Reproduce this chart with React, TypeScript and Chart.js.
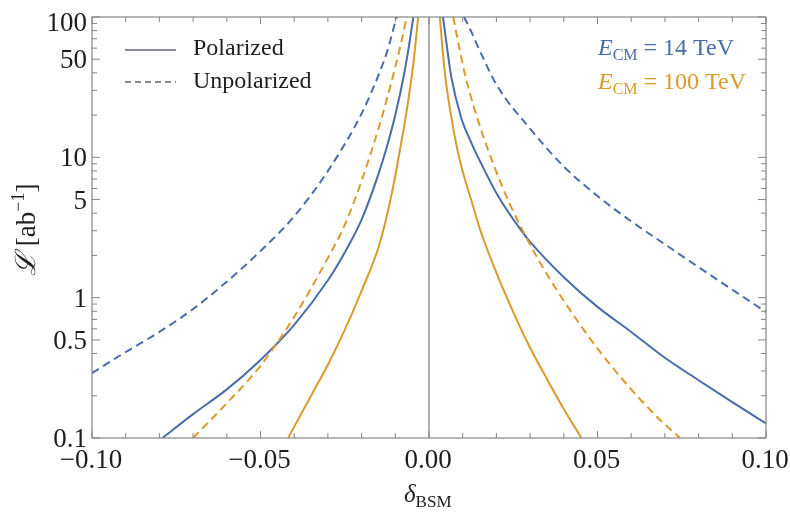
import { useEffect, useRef } from "react";
import { Chart, registerables } from "chart.js";

Chart.register(...registerables);

// Required luminosity vs. deviation, two collider energies, with / without polarization.
// Each curve has a negative-delta branch and a positive-delta branch.

const blue14PolLeftX = [-0.0791, -0.07, -0.06, -0.05, -0.04, -0.03, -0.025, -0.02, -0.015, -0.0125, -0.01, -0.0075, -0.006, -0.00465];
const blue14PolLeftY = [0.1, 0.148, 0.222, 0.36, 0.64, 1.33, 2.1, 3.6, 7.6, 11.9, 20, 38, 61, 100];
const blue14PolRightX = [0.00415, 0.005, 0.0066, 0.0096, 0.0125, 0.0155, 0.0205, 0.0274, 0.03, 0.04, 0.05, 0.06, 0.07, 0.08, 0.09, 0.1];
const blue14PolRightY = [100, 70, 37.6, 19, 12.8, 9.0, 5.3, 3.0, 2.5, 1.4, 0.86, 0.57, 0.373, 0.258, 0.18, 0.127];

const blue14UnpolLeftX = [-0.1, -0.09, -0.08, -0.07, -0.06, -0.05, -0.04, -0.03, -0.02, -0.015, -0.0125, -0.0096];
const blue14UnpolLeftY = [0.29, 0.41, 0.57, 0.83, 1.3, 2.15, 3.8, 8.0, 20.5, 38.5, 56, 100];
const blue14UnpolRightX = [0.0104, 0.0125, 0.015, 0.02, 0.03, 0.04, 0.05, 0.06, 0.07, 0.08, 0.09, 0.1];
const blue14UnpolRightY = [100, 79, 58, 33, 16, 8.6, 5.3, 3.5, 2.4, 1.65, 1.14, 0.79];

const orange100PolLeftX = [-0.0418, -0.035, -0.03, -0.025, -0.02, -0.015, -0.0125, -0.011, -0.0095, -0.0075, -0.0066, -0.0047, -0.0032];
const orange100PolLeftY = [0.1, 0.2, 0.333, 0.59, 1.12, 2.28, 3.83, 5.6, 8.6, 16, 21.6, 45.4, 100];
const orange100PolRightX = [0.0032, 0.0047, 0.0066, 0.0091, 0.0126, 0.015, 0.0195, 0.025, 0.0294, 0.035, 0.0393, 0.0452];
const orange100PolRightY = [100, 40, 19.5, 9.6, 4.9, 3.15, 1.61, 0.79, 0.47, 0.263, 0.172, 0.1];

const orange100UnpolLeftX = [-0.07, -0.06, -0.05, -0.04, -0.03, -0.025, -0.02, -0.015, -0.0125, -0.01, -0.008, -0.0066];
const orange100UnpolLeftY = [0.1, 0.177, 0.327, 0.73, 1.92, 3.3, 6.8, 16, 26, 44, 70, 100];
const orange100UnpolRightX = [0.0072, 0.0085, 0.0106, 0.0145, 0.0195, 0.0239, 0.03, 0.035, 0.04, 0.05, 0.06, 0.068, 0.0745];
const orange100UnpolRightY = [100, 69, 39.7, 18.5, 8.45, 4.69, 2.39, 1.47, 0.95, 0.434, 0.222, 0.139, 0.1];

const xTickValues = [-0.1, -0.05, 0, 0.05, 0.1];
const xTickLabels = ["\u22120.10", "\u22120.05", "0.00", "0.05", "0.10"];
const yTickValues = [0.1, 0.5, 1, 5, 10, 50, 100];
const yTickLabels = ["0.1", "0.5", "1", "5", "10", "50", "100"];
const xMinorTicks = [-0.09, -0.08, -0.07, -0.06, -0.04, -0.03, -0.02, -0.01, 0.01, 0.02, 0.03, 0.04, 0.06, 0.07, 0.08, 0.09];
const yMinorTicks = [0.2, 0.3, 0.4, 0.6, 0.7, 0.8, 0.9, 2, 3, 4, 6, 7, 8, 9, 20, 30, 40, 60, 70, 80, 90];

const legendLabels = ["Polarized", "Unpolarized"];
const energyLabels = ["14 TeV", "100 TeV"];

const BLUE = "#4a6ca8";
const ORANGE = "#dc9a2b";
const FRAME = "#858585";
const TEXT = "#1e1e1e";
const SERIF = "'Liberation Serif', 'DejaVu Serif', serif";

function pts(xs: number[], ys: number[]) {
  return xs.map((x, i) => ({ x, y: ys[i] }));
}

function line(xs: number[], ys: number[], color: string, dashed: boolean) {
  return {
    data: pts(xs, ys),
    borderColor: color,
    backgroundColor: color,
    borderWidth: 2,
    borderDash: dashed ? [8, 5] : [],
    pointRadius: 0,
    showLine: true,
    fill: false,
    cubicInterpolationMode: "monotone" as const,
  };
}

type Run = { t: string; font: string; dy?: number };

function drawRuns(ctx: CanvasRenderingContext2D, x: number, y: number, runs: Run[]) {
  let cx = x;
  for (const r of runs) {
    ctx.font = r.font;
    ctx.fillText(r.t, cx, y + (r.dy || 0));
    cx += ctx.measureText(r.t).width;
  }
}

const framePlugin = {
  id: "frameAndLabels",
  beforeDatasetsDraw(chart: any) {
    const { ctx, chartArea } = chart;
    const xs = chart.scales.x;
    ctx.save();
    ctx.strokeStyle = FRAME;
    ctx.lineWidth = 1.3;
    const x0 = xs.getPixelForValue(0);
    ctx.beginPath();
    ctx.moveTo(x0, chartArea.top);
    ctx.lineTo(x0, chartArea.bottom);
    ctx.stroke();
    ctx.restore();
  },
  afterDraw(chart: any) {
    const { ctx, chartArea } = chart;
    const { left, right, top, bottom } = chartArea;
    const xs = chart.scales.x;
    const ys = chart.scales.y;
    ctx.save();

    // frame
    ctx.strokeStyle = FRAME;
    ctx.lineWidth = 1.2;
    ctx.strokeRect(left, top, right - left, bottom - top);

    // inward ticks on all four sides
    ctx.lineWidth = 1;
    ctx.beginPath();
    const xt = (v: number, len: number) => {
      const p = xs.getPixelForValue(v);
      ctx.moveTo(p, bottom);
      ctx.lineTo(p, bottom - len);
      ctx.moveTo(p, top);
      ctx.lineTo(p, top + len);
    };
    const yt = (v: number, len: number) => {
      const p = ys.getPixelForValue(v);
      ctx.moveTo(left, p);
      ctx.lineTo(left + len, p);
      ctx.moveTo(right, p);
      ctx.lineTo(right - len, p);
    };
    xTickValues.forEach((v) => xt(v, 7));
    xMinorTicks.forEach((v) => xt(v, 5));
    yTickValues.forEach((v) => yt(v, 8));
    yMinorTicks.forEach((v) => yt(v, 5));
    ctx.stroke();

    // tick labels
    ctx.fillStyle = TEXT;
    ctx.font = `27px ${SERIF}`;
    ctx.textBaseline = "alphabetic";
    ctx.textAlign = "center";
    xTickValues.forEach((v, i) => {
      ctx.fillText(xTickLabels[i], xs.getPixelForValue(v) - 1, bottom + 30);
    });
    ctx.textAlign = "right";
    yTickValues.forEach((v, i) => {
      const p = Math.max(ys.getPixelForValue(v), top + 5);
      ctx.fillText(yTickLabels[i], left - 5, p + 9);
    });
    ctx.textAlign = "left";

    // line-style legend
    ctx.strokeStyle = "#5a6474";
    ctx.lineWidth = 1.3;
    ctx.beginPath();
    ctx.moveTo(125, 50);
    ctx.lineTo(176, 50);
    ctx.stroke();
    ctx.setLineDash([6, 4]);
    ctx.beginPath();
    ctx.moveTo(125, 82);
    ctx.lineTo(176, 82);
    ctx.stroke();
    ctx.setLineDash([]);

    ctx.fillStyle = TEXT;
    ctx.font = `24px ${SERIF}`;
    ctx.fillText(legendLabels[0], 193, 55);
    ctx.fillText(legendLabels[1], 193, 88);

    // energy legend
    const energyColors = [BLUE, ORANGE];
    const energyBase = [55, 89];
    energyLabels.forEach((lab, i) => {
      ctx.fillStyle = energyColors[i];
      drawRuns(ctx, 598, energyBase[i], [
        { t: "E", font: `italic 24px ${SERIF}` },
        { t: "CM", font: `16px ${SERIF}`, dy: 5 },
        { t: " = " + lab, font: `24px ${SERIF}` },
      ]);
    });

    // x-axis title
    ctx.fillStyle = TEXT;
    drawRuns(ctx, 404, 502, [
      { t: "δ", font: `italic 25px ${SERIF}` },
      { t: "BSM", font: `17px ${SERIF}`, dy: 5 },
    ]);

    // y-axis title
    ctx.save();
    ctx.translate(35, 224);
    ctx.rotate(-Math.PI / 2);
    drawRuns(ctx, -52, 0, [
      { t: "ℒ", font: `italic 28px 'DejaVu Serif', ${SERIF}` },
      { t: " [ab", font: `27px ${SERIF}` },
      { t: "−1", font: `18px ${SERIF}`, dy: -11 },
      { t: "]", font: `27px ${SERIF}` },
    ]);
    ctx.restore();

    ctx.restore();
  },
};

export default function App() {
  const ref = useRef<HTMLCanvasElement | null>(null);

  useEffect(() => {
    if (!ref.current) return;
    const chart = new Chart(ref.current, {
      type: "scatter",
      data: {
        datasets: [
          line(blue14UnpolLeftX, blue14UnpolLeftY, BLUE, true),
          line(blue14UnpolRightX, blue14UnpolRightY, BLUE, true),
          line(orange100UnpolLeftX, orange100UnpolLeftY, ORANGE, true),
          line(orange100UnpolRightX, orange100UnpolRightY, ORANGE, true),
          line(blue14PolLeftX, blue14PolLeftY, BLUE, false),
          line(blue14PolRightX, blue14PolRightY, BLUE, false),
          line(orange100PolLeftX, orange100PolLeftY, ORANGE, false),
          line(orange100PolRightX, orange100PolRightY, ORANGE, false),
        ] as any,
      },
      options: {
        responsive: false,
        animation: false,
        layout: { padding: { left: 0, right: 24, top: 17, bottom: 0 } },
        plugins: { legend: { display: false }, tooltip: { enabled: false } },
        scales: {
          x: {
            type: "linear",
            min: -0.1,
            max: 0.1,
            grid: { display: false, drawTicks: false },
            border: { display: false },
            ticks: { display: false },
            afterFit: (s: any) => {
              s.height = 76;
            },
          },
          y: {
            type: "logarithmic",
            min: 0.1,
            max: 100,
            grid: { display: false, drawTicks: false },
            border: { display: false },
            ticks: { display: false },
            afterFit: (s: any) => {
              s.width = 92;
            },
          },
        },
      },
      plugins: [framePlugin],
    });
    return () => chart.destroy();
  }, []);

  return (
    <div style={{ position: "absolute", left: 0, top: 0, width: 790, height: 514, background: "#fff" }}>
      <canvas ref={ref} width={790} height={514} />
    </div>
  );
}
